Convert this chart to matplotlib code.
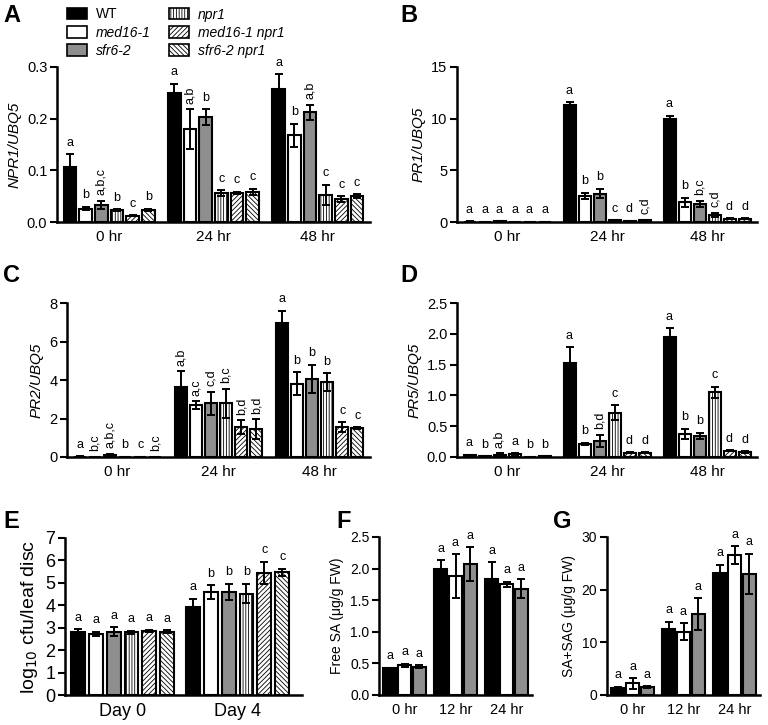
import matplotlib
matplotlib.use("Agg")
import matplotlib.pyplot as plt
from matplotlib.patches import Patch

plt.rcParams["font.family"] = ["Liberation Sans", "DejaVu Sans"]
plt.rcParams["hatch.linewidth"] = 0.6

genotypes = ["WT", "med16-1", "sfr6-2", "npr1", "med16-1 npr1", "sfr6-2 npr1"]
hours_abcd = ["0 hr", "24 hr", "48 hr"]
days_e = ["Day 0", "Day 4"]
hours_fg = ["0 hr", "12 hr", "24 hr"]

# A: NPR1/UBQ5
npr1_mean = [[0.106, 0.026, 0.033, 0.023, 0.012, 0.024],
             [0.250, 0.180, 0.203, 0.056, 0.056, 0.058],
             [0.257, 0.168, 0.212, 0.052, 0.044, 0.050]]
npr1_err = [[0.025, 0.003, 0.008, 0.002, 0.001, 0.002],
            [0.017, 0.038, 0.015, 0.005, 0.002, 0.006],
            [0.029, 0.022, 0.015, 0.020, 0.006, 0.004]]
npr1_letters = [["a", "b", "a,b,c", "b", "c", "b"],
                ["a", "a,b", "b", "c", "c", "c"],
                ["a", "b", "a,b", "c", "c", "c"]]

# B: PR1/UBQ5
pr1_mean = [[0.04, 0.03, 0.06, 0.03, 0.02, 0.02],
            [11.3, 2.55, 2.75, 0.15, 0.08, 0.20],
            [10.0, 1.90, 1.75, 0.70, 0.30, 0.30]]
pr1_err = [[0.01, 0.01, 0.02, 0.01, 0.01, 0.01],
           [0.30, 0.30, 0.45, 0.03, 0.02, 0.04],
           [0.30, 0.45, 0.30, 0.20, 0.05, 0.05]]
pr1_letters = [["a", "a", "a", "a", "a", "a"],
               ["a", "b", "b", "c", "d", "c,d"],
               ["a", "b", "b,c", "c,d", "d", "d"]]

# C: PR2/UBQ5
pr2_mean = [[0.02, 0.01, 0.08, 0.01, 0.01, 0.01],
            [3.65, 2.70, 2.80, 2.80, 1.55, 1.45],
            [6.95, 3.80, 4.05, 3.90, 1.55, 1.50]]
pr2_err = [[0.01, 0.005, 0.10, 0.005, 0.005, 0.005],
           [0.80, 0.20, 0.60, 0.75, 0.35, 0.50],
           [0.65, 0.60, 0.75, 0.45, 0.25, 0.05]]
pr2_letters = [["a", "b,c", "a,b,c", "b", "c", "b,c"],
               ["a,b", "a,c", "c,d", "b,c", "b,d", "b,d"],
               ["a", "b", "b", "b", "c", "c"]]

# D: PR5/UBQ5
pr5_mean = [[0.03, 0.01, 0.04, 0.05, 0.005, 0.01],
            [1.53, 0.21, 0.26, 0.72, 0.07, 0.07],
            [1.95, 0.38, 0.34, 1.05, 0.10, 0.08]]
pr5_err = [[0.005, 0.003, 0.02, 0.01, 0.002, 0.003],
           [0.25, 0.02, 0.10, 0.12, 0.01, 0.01],
           [0.14, 0.08, 0.05, 0.09, 0.01, 0.01]]
pr5_letters = [["a", "b", "a,b", "a", "b", "b"],
               ["a", "b", "b,d", "c", "d", "d"],
               ["a", "b", "b", "c", "d", "d"]]

# E: bacterial growth
cfu_mean = [[2.80, 2.73, 2.83, 2.79, 2.86, 2.83],
            [3.92, 4.59, 4.59, 4.52, 5.44, 5.47]]
cfu_err = [[0.14, 0.10, 0.19, 0.07, 0.04, 0.05],
           [0.36, 0.30, 0.37, 0.43, 0.49, 0.16]]
cfu_letters = [["a", "a", "a", "a", "a", "a"],
               ["a", "b", "b", "b", "c", "c"]]

# F: free SA
free_sa_mean = [[0.42, 0.47, 0.45], [2.00, 1.88, 2.07], [1.83, 1.75, 1.68]]
free_sa_err = [[0.01, 0.02, 0.02], [0.13, 0.35, 0.27], [0.27, 0.04, 0.15]]
free_sa_letters = [["a", "a", "a"], ["a", "a", "a"], ["a", "a", "a"]]

# G: SA+SAG
total_sa_mean = [[1.4, 2.2, 1.45], [12.5, 12.05, 15.4], [23.1, 26.5, 23.0]]
total_sa_err = [[0.2, 1.0, 0.2], [1.45, 1.55, 3.0], [1.6, 1.7, 3.8]]
total_sa_letters = [["a", "a", "a"], ["a", "a", "a"], ["a", "a", "a"]]

face = ["black", "white", "#8e8e8e", "white", "white", "white"]
hatch = [None, None, None, "||||||", "///////", "\\\\\\\\\\\\\\"]


def draw_panel(ax, groups, means, errs, letters, ylim, yticks, fmt,
               ylabel, step, width, italic=True, tick_fs=10.5, label_fs=11,
               letter_fs=9):
    for gi, group in enumerate(means):
        n = len(group)
        for bi, val in enumerate(group):
            x = gi + 0.5 + (bi - (n - 1) / 2) * step
            ax.bar(x, val, width=width, color=face[bi], hatch=hatch[bi],
                   edgecolor="black", linewidth=1.5, zorder=2)
            ax.errorbar(x, val, yerr=errs[gi][bi], fmt="none", ecolor="black",
                        elinewidth=1.4, capsize=3, capthick=1.4, zorder=3)
            lab = letters[gi][bi]
            top = val + errs[gi][bi]
            rot = 90 if "," in lab else 0
            ax.annotate(lab, (x, top), xytext=(0, 4), textcoords="offset points",
                        ha="center", va="bottom", rotation=rot,
                        fontsize=letter_fs, annotation_clip=False)
    ax.set_xlim(0, len(groups))
    ax.set_ylim(*ylim)
    ax.set_yticks(yticks)
    ax.set_yticklabels([fmt.format(t) for t in yticks], fontsize=tick_fs)
    ax.set_xticks([i + 0.5 for i in range(len(groups))])
    ax.set_xticklabels(groups, fontsize=label_fs)
    ax.tick_params(axis="x", length=0, pad=6)
    ax.tick_params(axis="y", length=5, width=1.5, direction="out", pad=2)
    for s in ["top", "right"]:
        ax.spines[s].set_visible(False)
    for s in ["left", "bottom"]:
        ax.spines[s].set_linewidth(1.8)
    ax.set_ylabel(ylabel, fontsize=label_fs,
                  style="italic" if italic else "normal")


fig = plt.figure(figsize=(7.68, 7.25), dpi=100)
W, H = 768, 725


def px_axes(left, right, top, bottom):
    return fig.add_axes([left / W, 1 - bottom / H, (right - left) / W,
                         (bottom - top) / H])


ax_a = px_axes(57, 370, 67, 222)
draw_panel(ax_a, hours_abcd, npr1_mean, npr1_err, npr1_letters, (0, 0.3),
           [0.0, 0.1, 0.2, 0.3], "{:.1f}", "NPR1/UBQ5", 0.15, 0.12)

ax_b = px_axes(457, 757, 67, 222)
draw_panel(ax_b, hours_abcd, pr1_mean, pr1_err, pr1_letters, (0, 15),
           [0, 5, 10, 15], "{:d}", "PR1/UBQ5", 0.15, 0.12)

ax_c = px_axes(67, 370, 303, 457)
draw_panel(ax_c, hours_abcd, pr2_mean, pr2_err, pr2_letters, (0, 8),
           [0, 2, 4, 6, 8], "{:d}", "PR2/UBQ5", 0.15, 0.12)

ax_d = px_axes(457, 757, 303, 457)
draw_panel(ax_d, hours_abcd, pr5_mean, pr5_err, pr5_letters, (0, 2.5),
           [0.0, 0.5, 1.0, 1.5, 2.0, 2.5], "{:.1f}", "PR5/UBQ5", 0.15, 0.12)

ax_e = px_axes(65, 302, 538, 695)
draw_panel(ax_e, days_e, cfu_mean, cfu_err, cfu_letters, (0, 7),
           [0, 1, 2, 3, 4, 5, 6, 7], "{:d}", "log$_{10}$ cfu/leaf disc",
           0.155, 0.12, italic=False, tick_fs=13, label_fs=13)
ax_e.set_xlim(0, 2.06)
ax_e.yaxis.label.set_size(14)

ax_f = px_axes(379, 532, 537, 695)
draw_panel(ax_f, hours_fg, free_sa_mean, free_sa_err, free_sa_letters,
           (0, 2.5), [0.0, 0.5, 1.0, 1.5, 2.0, 2.5], "{:.1f}",
           "Free SA (\u03bcg/g FW)", 0.29, 0.25, italic=False, tick_fs=10,
           label_fs=10.5)
ax_f.yaxis.label.set_size(10)

ax_g = px_axes(607, 760, 537, 695)
draw_panel(ax_g, hours_fg, total_sa_mean, total_sa_err, total_sa_letters,
           (0, 30), [0, 10, 20, 30], "{:d}", "SA+SAG (\u03bcg/g FW)",
           0.29, 0.25, italic=False, tick_fs=10, label_fs=10.5)
ax_g.yaxis.label.set_size(10)

for letter, x, y in [("A", 3, 4), ("B", 400, 4), ("C", 3, 264), ("D", 400, 264),
                     ("E", 3, 510), ("F", 336, 510), ("G", 553, 510)]:
    fig.text(x / W, 1 - y / H, letter, fontsize=17, fontweight="bold",
             ha="left", va="top")

handles = [Patch(facecolor=face[i], edgecolor="black", hatch=hatch[i],
                 linewidth=1.2) for i in range(6)]
leg = fig.legend(handles, genotypes, ncol=2, loc="upper left",
                 bbox_to_anchor=(54 / W, 1 + 5 / H), frameon=False,
                 fontsize=10, handlelength=1.5, handleheight=0.9,
                 columnspacing=1.3, labelspacing=0.3, handletextpad=0.6)
for t in leg.get_texts()[1:]:
    t.set_style("italic")

fig.savefig("out.png", dpi=100)
